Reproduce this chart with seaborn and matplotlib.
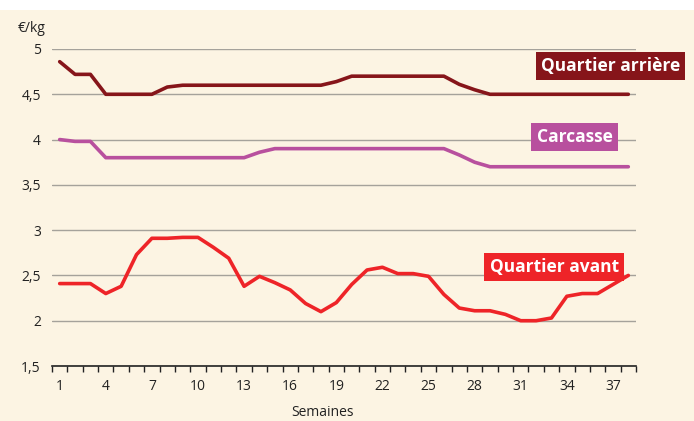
import seaborn as sns
import matplotlib.pyplot as plt
import matplotlib.patches as mpatches
from matplotlib.ticker import FixedLocator
import pandas as pd

# weeks 1..38
semaines = list(range(1, 39))

quartier_arriere = [4.86, 4.72, 4.72, 4.50, 4.50, 4.50, 4.50, 4.58, 4.60, 4.60,
                    4.60, 4.60, 4.60, 4.60, 4.60, 4.60, 4.60, 4.60, 4.64, 4.70,
                    4.70, 4.70, 4.70, 4.70, 4.70, 4.70, 4.61, 4.55, 4.50, 4.50,
                    4.50, 4.50, 4.50, 4.50, 4.50, 4.50, 4.50, 4.50]

carcasse = [4.00, 3.98, 3.98, 3.80, 3.80, 3.80, 3.80, 3.80, 3.80, 3.80,
            3.80, 3.80, 3.80, 3.86, 3.90, 3.90, 3.90, 3.90, 3.90, 3.90,
            3.90, 3.90, 3.90, 3.90, 3.90, 3.90, 3.83, 3.75, 3.70, 3.70,
            3.70, 3.70, 3.70, 3.70, 3.70, 3.70, 3.70, 3.70]

quartier_avant = [2.41, 2.41, 2.41, 2.30, 2.38, 2.73, 2.91, 2.91, 2.92, 2.92,
                  2.81, 2.69, 2.38, 2.49, 2.42, 2.34, 2.19, 2.10, 2.20, 2.40,
                  2.56, 2.59, 2.52, 2.52, 2.49, 2.29, 2.14, 2.11, 2.11, 2.07,
                  2.00, 2.00, 2.03, 2.27, 2.30, 2.30, 2.40, 2.50]

series = ["Quartier arrière", "Carcasse", "Quartier avant"]
couleurs = ["#86151a", "#b8509e", "#ee2428"]
yticks = [1.5, 2, 2.5, 3, 3.5, 4, 4.5, 5]
ytick_labels = ["1,5", "2", "2,5", "3", "3,5", "4", "4,5", "5"]
xticks = list(range(1, 38, 3))

df = pd.DataFrame({
    "semaine": semaines * 3,
    "prix": quartier_arriere + carcasse + quartier_avant,
    "serie": [series[0]] * 38 + [series[1]] * 38 + [series[2]] * 38,
})

bg = "#fcf4e3"
sns.set_style("white")
plt.rcParams["font.family"] = ["Open Sans", "DejaVu Sans"]

fig = plt.figure(figsize=(6.94, 4.21), dpi=100)
fig.patch.set_facecolor("white")
# cream panel under the thin white strip at the top
fig.patches.append(mpatches.Rectangle((0, 0), 1, 1 - 10 / 421, transform=fig.transFigure,
                                      facecolor=bg, edgecolor="none", zorder=-1))
ax = fig.add_axes([52 / 694, 1 - 366 / 421, (636 - 52) / 694, (366 - 49) / 421])
ax.set_facecolor(bg)

sns.lineplot(data=df, x="semaine", y="prix", hue="serie", palette=couleurs,
             linewidth=2.6, legend=False, ax=ax)

ax.set_xlim(0.5, 38.5)
ax.set_ylim(1.5, 5)
ax.set_yticks(yticks)
ax.set_yticklabels(ytick_labels)
ax.set_xticks(xticks)
ax.set_xticklabels([str(x) for x in xticks])
ax.xaxis.set_minor_locator(FixedLocator([x + 0.5 for x in range(0, 39)]))
ax.tick_params(axis="x", which="major", length=0, pad=9, labelsize=10, colors="#222222")
ax.tick_params(axis="x", which="minor", length=4, width=1, direction="out", color="#222222", bottom=True)
ax.tick_params(axis="y", length=0, pad=8, labelsize=10, colors="#222222")
ax.set_xlabel("")
ax.set_ylabel("")

ax.yaxis.grid(True, color="#a5a29b", linewidth=1)
ax.set_axisbelow(True)
for s in ["top", "right", "left"]:
    ax.spines[s].set_visible(False)
ax.spines["bottom"].set_color("#222222")
ax.spines["bottom"].set_linewidth(1.2)
ax.spines["bottom"].set_zorder(3)

# labels on the lines
etiquettes = [(36.85, 4.81), (34.5, 4.03), (33.17, 2.59)]
for nom, c, (xx, yy) in zip(series, couleurs, etiquettes):
    ax.text(xx, yy, nom, color="white", fontsize=12.5, fontweight="bold",
            ha="center", va="center", clip_on=False, zorder=5,
            bbox=dict(boxstyle="square,pad=0.3", facecolor=c, edgecolor="none"))

fig.text(18 / 694, 1 - 28 / 421, "€/kg", fontsize=10, color="#222222", va="center", ha="left")
fig.text(323 / 694, 1 - 412 / 421, "Semaines", fontsize=10, color="#222222", va="center", ha="center")

fig.savefig("out.png", dpi=100, facecolor=fig.get_facecolor())
